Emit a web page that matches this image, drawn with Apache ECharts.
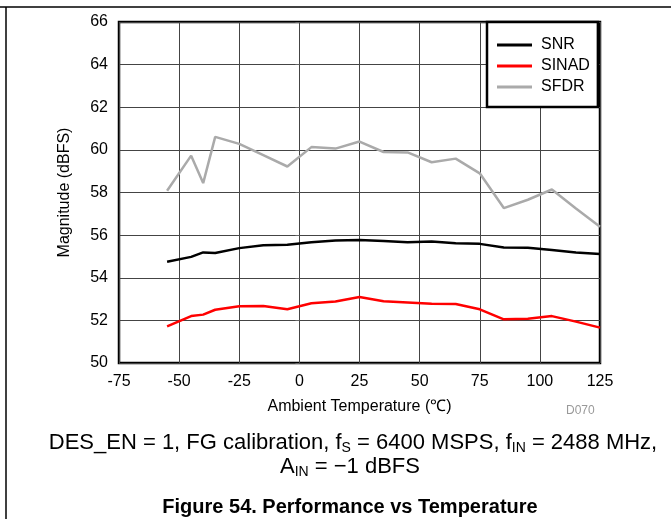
<!DOCTYPE html>
<html>
<head>
<meta charset="utf-8">
<script src="https://cdn.jsdelivr.net/npm/echarts@6/dist/echarts.min.js"></script>
<style>
html,body{margin:0;padding:0;background:#fff;}
#c{width:671px;height:519px;}
</style>
</head>
<body>
<div id="c"></div>
<script>
const temps = [-55,-45,-40,-35,-25,-15,-5,5,15,25,35,45,55,65,75,85,95,105,115,125];
const snr   = [54.75,54.98,55.19,55.16,55.39,55.52,55.55,55.67,55.75,55.77,55.73,55.67,55.70,55.62,55.59,55.42,55.41,55.30,55.19,55.11];
const sinad = [51.72,52.20,52.27,52.50,52.66,52.67,52.52,52.80,52.89,53.10,52.90,52.84,52.78,52.77,52.52,52.05,52.08,52.20,51.94,51.66];
const sfdr  = [58.08,59.73,58.44,60.61,60.28,59.75,59.22,60.13,60.06,60.39,59.90,59.88,59.42,59.59,58.90,57.27,57.66,58.14,57.25,56.39];
const seriesNames = ['SNR','SINAD','SFDR'];
const xTitle = 'Ambient Temperature (\u2103)';
const yTitle = 'Magnitude (dBFS)';

const F = 'Liberation Sans, Arial, sans-serif';
const chart = echarts.init(document.getElementById('c'));
const pair = (vals) => temps.map((t,i)=>[t, vals[i]]);
const colors = ['#000000','#ff0000','#aaaaaa'];
const data = [snr, sinad, sfdr];
const lineIcon = 'path://M0,0 L35,0 L35,3 L0,3 Z';

chart.setOption({
  animation:false,
  backgroundColor:'#fff',
  grid:{left:119,right:71,top:22,bottom:156,show:true,borderColor:'#000',borderWidth:2.5,backgroundColor:'transparent'},
  legend:{
    orient:'vertical', left:487, top:22,
    padding:[15,8,12,10], itemGap:5, itemWidth:35, itemHeight:3,
    backgroundColor:'#fff', borderColor:'#000', borderWidth:2.5, borderRadius:0,
    textStyle:{fontFamily:F,fontSize:16,color:'#000',padding:[0,0,0,4]},
    data:seriesNames.map(n=>({name:n,icon:lineIcon})),
    itemStyle:{borderWidth:0}
  },
  xAxis:{
    type:'value',min:-75,max:125,interval:25,
    name:xTitle,nameLocation:'middle',nameGap:36,
    nameTextStyle:{fontFamily:F,fontSize:16,color:'#000'},
    axisLine:{show:false},axisTick:{show:false},
    axisLabel:{fontFamily:F,fontSize:16,color:'#000',margin:11},
    splitLine:{show:true,lineStyle:{color:'#444',width:1}}
  },
  yAxis:{
    type:'value',min:50,max:66,interval:2,
    name:yTitle,nameLocation:'middle',nameGap:46,
    nameTextStyle:{fontFamily:F,fontSize:16,color:'#000'},
    axisLine:{show:false},
    axisTick:{show:true,length:4,lineStyle:{color:'#666'}},
    axisLabel:{fontFamily:F,fontSize:16,color:'#000',margin:11},
    splitLine:{show:true,lineStyle:{color:'#444',width:1}}
  },
  series:seriesNames.map((n,k)=>({
    name:n,type:'line',data:pair(data[k]),symbol:'none',
    lineStyle:{color:colors[k],width:2.5},itemStyle:{color:colors[k]},z:5-k
  })),
  graphic:[
    {type:'line',shape:{x1:0,y1:7,x2:671,y2:7},style:{stroke:'#000',lineWidth:1.5}},
    {type:'line',shape:{x1:6,y1:7,x2:6,y2:519},style:{stroke:'#000',lineWidth:1.5}},
    {type:'text',left:566,top:405,style:{text:'D070',fill:'#999',font:'12px '+F}},
    {type:'text',x:353,y:443,style:{
      text:'DES_EN = 1, FG calibration, f{s|S} = 6400 MSPS, f{s|IN} = 2488 MHz,',
      textAlign:'center',textVerticalAlign:'middle',font:'22px '+F,fill:'#000',
      rich:{s:{fontSize:14,fontFamily:F,padding:[11,0,0,0],fill:'#000'}}
    }},
    {type:'text',x:350,y:467,style:{
      text:'A{s|IN} = \u22121 dBFS',
      textAlign:'center',textVerticalAlign:'middle',font:'22px '+F,fill:'#000',
      rich:{s:{fontSize:14,fontFamily:F,padding:[11,0,0,0],fill:'#000'}}
    }},
    {type:'text',x:350,y:507,style:{text:'Figure 54. Performance vs Temperature',textAlign:'center',textVerticalAlign:'middle',font:'bold 20px '+F,fill:'#000'}}
  ]
});
</script>
</body>
</html>
